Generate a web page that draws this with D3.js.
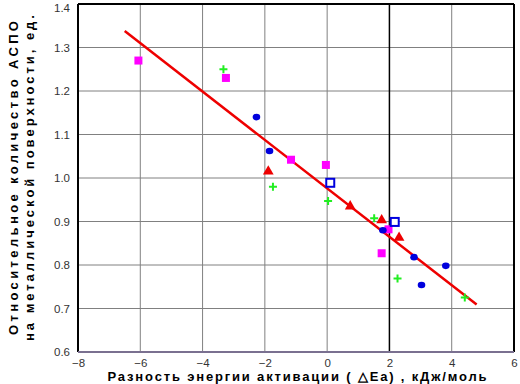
<!DOCTYPE html>
<html><head><meta charset="utf-8">
<script src="https://cdn.jsdelivr.net/npm/d3@7"></script>
<style>body{margin:0;background:#fff}svg{display:block}</style>
</head><body>
<svg id="c" width="520" height="384"></svg>
<script>
const xTicks = [-8,-6,-4,-2,0,2,4,6];
const yTicks = [0.6,0.7,0.8,0.9,1.0,1.1,1.2,1.3,1.4];
const magentaX = [-6.06,-3.25,-1.16,-0.04,1.97,1.75];
const magentaY = [1.27,1.23,1.042,1.03,0.882,0.827];
const blueX = [-2.27,-1.85,1.79,2.79,3.81,3.03];
const blueY = [1.14,1.062,0.88,0.818,0.798,0.754];
const greenX = [-3.33,-1.74,0.03,1.51,2.26,4.42];
const greenY = [1.25,0.98,0.947,0.9075,0.769,0.7255];
const redX = [-1.89,0.74,1.75,2.31];
const redY = [1.015,0.935,0.903,0.863];
const openX = [0.10,2.17];
const openY = [0.989,0.899];
const fitX = [-6.5,4.8];
const fitY = [1.338,0.709];

const svg = d3.select('#c');
const x = d3.scaleLinear().domain([-8,6]).range([78,514]);
const y = d3.scaleLinear().domain([0.6,1.4]).range([352,4]);

// grid
svg.append('g').selectAll('line').data(yTicks.slice(1,-1)).join('line')
  .attr('x1',78).attr('x2',514).attr('y1',d=>y(d)).attr('y2',d=>y(d))
  .attr('stroke','#808080').attr('stroke-width',1);
svg.append('g').selectAll('line').data(xTicks.slice(1,-1)).join('line')
  .attr('y1',4).attr('y2',352).attr('x1',d=>x(d)).attr('x2',d=>x(d))
  .attr('stroke',d=>d===2?'#000':'#808080').attr('stroke-width',d=>d===2?1.5:1);

// frame
svg.append('line').attr('x1',78).attr('x2',514).attr('y1',4).attr('y2',4).attr('stroke','#000').attr('stroke-width',2);
svg.append('line').attr('x1',514).attr('x2',514).attr('y1',4).attr('y2',352).attr('stroke','#000').attr('stroke-width',2);
svg.append('line').attr('x1',78).attr('x2',78).attr('y1',4).attr('y2',352).attr('stroke','#000').attr('stroke-width',2);
svg.append('line').attr('x1',78).attr('x2',514).attr('y1',352).attr('y2',352).attr('stroke','#7a7090').attr('stroke-width',2);

// axes labels
const fam = 'Arial, "Liberation Sans", sans-serif';
const yAxis = d3.axisLeft(y).tickValues(yTicks).tickFormat(d3.format('.1f')).tickSize(0).tickPadding(8);
const gy = svg.append('g').attr('transform','translate(78,0)').call(yAxis);
gy.select('.domain').remove();
gy.selectAll('text').attr('font-family',fam).attr('font-size',11.5).attr('fill','#333');
gy.selectAll('.tick').filter(d=>d===1.4).select('text').attr('dy','0.62em');
const xAxis = d3.axisBottom(x).tickValues(xTicks).tickFormat(d3.format('d')).tickSize(0).tickPadding(7);
const gx = svg.append('g').attr('transform','translate(0,352)').call(xAxis);
gx.select('.domain').remove();
gx.selectAll('text').attr('font-family',fam).attr('font-size',11.5).attr('fill','#333');

// fit line
svg.append('path').datum(fitX.map((v,i)=>[v,fitY[i]]))
  .attr('d',d3.line().x(d=>x(d[0])).y(d=>y(d[1])))
  .attr('stroke','#ee0000').attr('stroke-width',2.5).attr('fill','none');

// markers
const pts = (xs,ys)=>xs.map((v,i)=>[v,ys[i]]);
svg.append('g').selectAll('rect').data(pts(magentaX,magentaY)).join('rect')
  .attr('x',d=>x(d[0])-4).attr('y',d=>y(d[1])-4).attr('width',8).attr('height',8).attr('fill','#ff00ff');
svg.append('g').selectAll('ellipse').data(pts(blueX,blueY)).join('ellipse')
  .attr('cx',d=>x(d[0])).attr('cy',d=>y(d[1])).attr('rx',3.8).attr('ry',3.3).attr('fill','#0000dd');
svg.append('g').selectAll('path').data(pts(redX,redY)).join('path')
  .attr('d',d3.symbol(d3.symbolTriangle,50))
  .attr('transform',d=>`translate(${x(d[0])},${y(d[1])})`).attr('fill','#ee0000');
svg.append('g').selectAll('path').data(pts(greenX,greenY)).join('path')
  .attr('d',d=>{const cx=x(d[0]),cy=y(d[1]);return `M${cx-4},${cy}H${cx+4}M${cx},${cy-4}V${cy+4}`;})
  .attr('stroke','#22ee22').attr('stroke-width',2).attr('fill','none');
svg.append('g').selectAll('rect').data(pts(openX,openY)).join('rect')
  .attr('x',d=>x(d[0])-4).attr('y',d=>y(d[1])-4).attr('width',8).attr('height',8)
  .attr('fill','#fff').attr('stroke','#0000dd').attr('stroke-width',2);

// titles
svg.append('text').attr('x',297).attr('y',381).attr('text-anchor','middle')
  .attr('font-family',fam).attr('font-size',13).attr('font-weight','bold')
  .attr('textLength',379).attr('lengthAdjust','spacing')
  .text('Разность  энергии  активации ( △Ea) , кДж/моль');
svg.append('text').attr('transform','translate(18,178) rotate(-90)').attr('text-anchor','middle')
  .attr('font-family',fam).attr('font-size',13).attr('font-weight','bold')
  .attr('textLength',314).attr('lengthAdjust','spacing')
  .text('Относительное  количество АСПО');
svg.append('text').attr('transform','translate(34,178) rotate(-90)').attr('text-anchor','middle')
  .attr('font-family',fam).attr('font-size',13).attr('font-weight','bold')
  .attr('textLength',326).attr('lengthAdjust','spacing')
  .text('на металлической поверхности, ед.');
</script>
</body></html>
